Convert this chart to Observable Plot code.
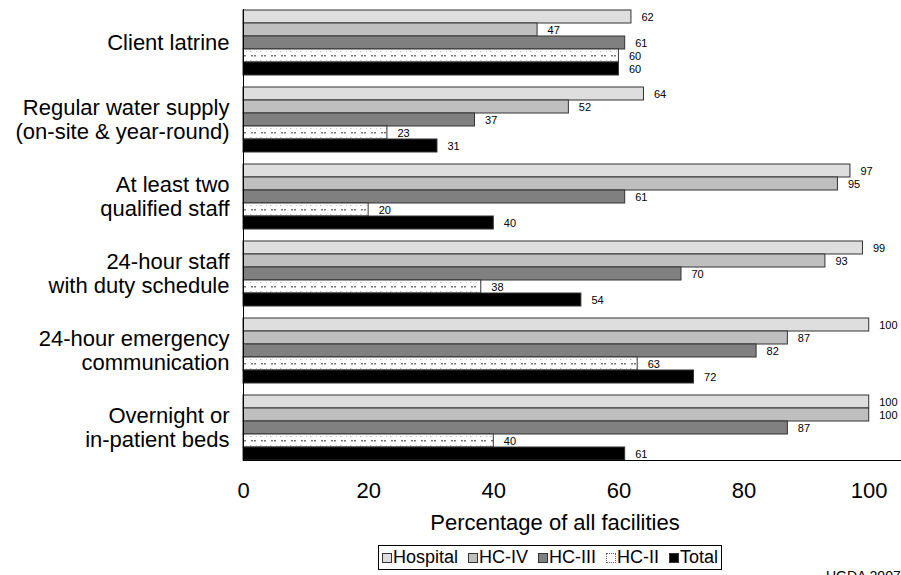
<!DOCTYPE html>
<html>
<head>
<meta charset="utf-8">
<script src="https://cdn.jsdelivr.net/npm/d3@7"></script>
<script src="https://cdn.jsdelivr.net/npm/@observablehq/plot@0.6"></script>
<style>
  html, body { margin: 0; padding: 0; background: #fff; }
  body { width: 901px; height: 575px; position: relative; overflow: hidden;
         font-family: "Liberation Sans", Arial, sans-serif; color: #000; }
  #chart { position: absolute; left: 0; top: 0; }
  #xlabel { position: absolute; left: 355px; width: 400px; top: 510px; text-align: center;
            font-size: 22px; line-height: 26px; }
  #legend { position: absolute; left: 378px; top: 545px; border: 1px solid #000;
            display: flex; align-items: center; gap: 10px; padding: 0 3px 0 3px; height: 23px;
            font-size: 18px; line-height: 23px; }
  #legend .item { display: flex; align-items: center; }
  #legend .sw { width: 10px; height: 10px; border: 1px solid #333; margin-right: 1px; box-sizing: border-box; }
  #source { position: absolute; left: 826px; top: 568px; font-size: 14px; line-height: 16px; }
</style>
</head>
<body>
<div id="chart"></div>
<div id="xlabel"></div>
<div id="legend"></div>
<div id="source">UGDA 2007</div>
<script>
const categories = [
  "Client latrine",
  "Regular water supply\n(on-site & year-round)",
  "At least two\nqualified staff",
  "24-hour staff\nwith duty schedule",
  "24-hour emergency\ncommunication",
  "Overnight or\nin-patient beds"
];
const series = ["Hospital", "HC-IV", "HC-III", "HC-II", "Total"];
const hospital = [62, 64, 97, 99, 100, 100];
const hcIV     = [47, 52, 95, 93, 87, 100];
const hcIII    = [61, 37, 61, 70, 82, 87];
const hcII     = [60, 23, 20, 38, 63, 40];
const total    = [60, 31, 40, 54, 72, 61];
const xTicks = [0, 20, 40, 60, 80, 100];
const xTitle = "Percentage of all facilities";

const seriesValues = [hospital, hcIV, hcIII, hcII, total];
const colors = ["#dedede", "#bfbfbf", "#808080", "url(#hc2pat)", "#000000"];

const rows = [];
categories.forEach((c, i) => {
  series.forEach((s, j) => rows.push({category: c, series: s, value: seriesValues[j][i]}));
});

const chart = Plot.plot({
  width: 901,
  height: 540,
  marginLeft: 243,
  marginRight: 1,
  marginTop: 3,
  marginBottom: 75,
  style: {fontFamily: "'Liberation Sans', Arial, sans-serif", color: "#000", background: "#fff"},
  x: {domain: [0, 105]},
  y: {domain: series, padding: 0, axis: null},
  fy: {domain: categories, paddingInner: 0.143, paddingOuter: 0.07},
  color: {domain: series, range: colors},
  marks: [
    Plot.barX(rows, {x: "value", y: "series", fy: "category", fill: "series", stroke: "#333", strokeWidth: 1}),
    Plot.text(rows, {x: "value", y: "series", fy: "category", text: d => `${d.value}`, dx: 10,
                     textAnchor: "start", fontSize: 11, fill: "#000"}),
    Plot.axisFy({anchor: "left", tickSize: 0, tickPadding: 14, fontSize: 22, label: null, lineHeight: 1.1}),
    Plot.axisX({ticks: xTicks, tickSize: 0, tickPadding: 22, fontSize: 22, label: null}),
    Plot.frame({anchor: "left", facet: "super", stroke: "#000"}),
    Plot.frame({anchor: "bottom", facet: "super", stroke: "#000"})
  ]
});

// pattern definition for HC-II
const ns = "http://www.w3.org/2000/svg";
const svg = chart.tagName.toLowerCase() === "svg" ? chart : chart.querySelector("svg");
const defs = document.createElementNS(ns, "defs");
defs.innerHTML = `
  <pattern id="hc2pat" patternUnits="userSpaceOnUse" width="10" height="9">
    <rect width="10" height="9" fill="#fff"/>
    <rect x="1" y="4" width="2" height="1.5" fill="#777"/>
    <rect x="4" y="4" width="2" height="1.5" fill="#777"/>
    <rect x="0" y="0" width="1.5" height="1" fill="#bbb"/>
    <rect x="6" y="0" width="1" height="1" fill="#ccc"/>
  </pattern>`;
svg.insertBefore(defs, svg.firstChild);
document.getElementById("chart").appendChild(chart);

document.getElementById("xlabel").textContent = xTitle;

const legend = document.getElementById("legend");
series.forEach((s, j) => {
  const item = document.createElement("div");
  item.className = "item";
  const sw = document.createElement("span");
  sw.className = "sw";
  if (j === 3) {
    sw.style.background = "#fff";
    sw.style.border = "1px dotted #666";
  } else {
    sw.style.background = colors[j];
  }
  const t = document.createElement("span");
  t.textContent = s;
  item.appendChild(sw);
  item.appendChild(t);
  legend.appendChild(item);
});
</script>
</body>
</html>
